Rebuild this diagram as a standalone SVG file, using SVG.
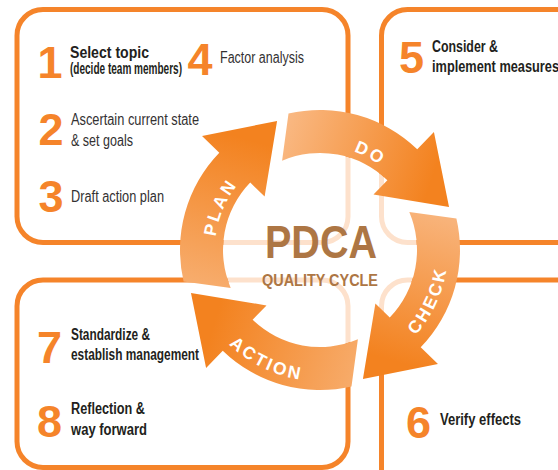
<svg xmlns="http://www.w3.org/2000/svg" width="558" height="470" viewBox="0 0 558 470">
  <defs>
    <style>
      .box{fill:none;stroke:#f5842a;stroke-width:5}
      .num{font-family:"Liberation Sans",Arial,sans-serif;font-weight:bold;font-size:45px;fill:#f5842a;text-anchor:middle}
      .b{font-family:"Liberation Sans",Arial,sans-serif;font-weight:bold;font-size:16px;fill:#231f20}
      .r{font-family:"Liberation Sans",Arial,sans-serif;font-size:16px;fill:#333132}
      .lbl{font-family:"Liberation Sans",Arial,sans-serif;font-weight:bold;font-size:17.5px;fill:#ffffff;letter-spacing:2.5px}
      .ctr{font-family:"Liberation Sans",Arial,sans-serif;font-weight:bold;fill:#ad7644;text-anchor:middle}
    </style>
    <linearGradient id="gPlan" gradientUnits="userSpaceOnUse" x1="207" y1="285" x2="250" y2="140">
      <stop offset="0" stop-color="#f7ac6c"/>
      <stop offset="1" stop-color="#f3821f"/>
    </linearGradient>
    <linearGradient id="gDo" gradientUnits="userSpaceOnUse" x1="285" y1="137" x2="430" y2="185">
      <stop offset="0" stop-color="#f9b780"/>
      <stop offset="1" stop-color="#f3821f"/>
    </linearGradient>
    <linearGradient id="gCheck" gradientUnits="userSpaceOnUse" x1="433" y1="215" x2="390" y2="360">
      <stop offset="0" stop-color="#f8b37a"/>
      <stop offset="1" stop-color="#f3821f"/>
    </linearGradient>
    <linearGradient id="gAction" gradientUnits="userSpaceOnUse" x1="355" y1="363" x2="215" y2="320">
      <stop offset="0" stop-color="#f7aa68"/>
      <stop offset="1" stop-color="#f3821f"/>
    </linearGradient>
    <path id="arcPlan" d="M219.59,280.70 A105,105 0 0,1 272.33,156.44"/>
    <path id="arcDo" d="M297.49,148.46 A104,104 0 0,1 416.08,210.20"/>
    <path id="arcCheck" d="M374.09,366.01 A128,128 0 0,0 443.64,216.87"/>
    <path id="arcAction" d="M200.33,303.28 A131,131 0 0,0 351.69,377.11"/>
  </defs>

  <!-- step boxes -->
  <g id="box-plan">
    <rect class="box" x="17" y="9.5" width="331" height="233" rx="26"/>
  </g>
  <g id="box-do">
    <rect class="box" x="381.5" y="9.5" width="210" height="233" rx="26"/>
  </g>
  <g id="box-action">
    <rect class="box" x="17" y="280" width="331" height="187.5" rx="26"/>
  </g>
  <g id="box-check">
    <rect class="box" x="381.5" y="280" width="210" height="220" rx="26"/>
  </g>

  <!-- veil over the box corners inside the cycle -->
  <circle cx="320" cy="250" r="97" fill="#ffffff" fill-opacity="0.76"/>

  <!-- cycle arrows -->
  <g id="connectors">
    <path id="arrow-plan" fill="url(#gPlan)" d="M230.71,287.90 A97,97 0 0,1 250.22,182.62 L264.61,196.51 L277.08,120.97 L202.03,136.08 L219.29,152.75 A140,140 0 0,0 183.59,281.49 Z"/>
    <path id="arrow-do" fill="url(#gDo)" d="M282.10,160.71 A97,97 0 0,1 387.38,180.22 L373.49,194.61 L449.03,207.08 L433.92,132.03 L417.25,149.29 A140,140 0 0,0 288.51,113.59 Z"/>
    <path id="arrow-check" fill="url(#gCheck)" d="M409.29,212.10 A97,97 0 0,1 389.78,317.38 L375.39,303.49 L362.92,379.03 L437.97,363.92 L420.71,347.25 A140,140 0 0,0 456.41,218.51 Z"/>
    <path id="arrow-action" fill="url(#gAction)" d="M357.90,339.29 A97,97 0 0,1 252.62,319.78 L266.51,305.39 L190.97,292.92 L206.08,367.97 L222.75,350.71 A140,140 0 0,0 351.49,386.41 Z"/>
    <text class="lbl"><textPath href="#arcPlan" startOffset="50%" text-anchor="middle">PLAN</textPath></text>
    <text class="lbl"><textPath href="#arcDo" startOffset="50%" text-anchor="middle">DO</textPath></text>
    <text class="lbl"><textPath href="#arcCheck" startOffset="50%" text-anchor="middle">CHECK</textPath></text>
    <text class="lbl"><textPath href="#arcAction" startOffset="50%" text-anchor="middle">ACTION</textPath></text>
  </g>

  <!-- cycle title -->
  <g id="center-title">
    <text class="ctr" x="321" y="258" font-size="46" textLength="112" lengthAdjust="spacingAndGlyphs">PDCA</text>
    <text class="ctr" x="320" y="286" font-size="16.5" textLength="116" lengthAdjust="spacingAndGlyphs">QUALITY CYCLE</text>
  </g>

  <!-- plan steps -->
  <g id="steps-plan">
    <text class="num" x="50" y="78">1</text>
    <text class="b" x="70" y="58" textLength="79" lengthAdjust="spacingAndGlyphs">Select topic</text>
    <text class="b" x="70" y="74" font-size="11.5" textLength="112" lengthAdjust="spacingAndGlyphs">(decide team members)</text>
    <text class="num" x="200" y="75">4</text>
    <text class="r" x="220" y="63" textLength="84" lengthAdjust="spacingAndGlyphs">Factor analysis</text>
    <text class="num" x="51" y="145">2</text>
    <text class="r" x="71" y="125" textLength="128" lengthAdjust="spacingAndGlyphs">Ascertain current state</text>
    <text class="r" x="71" y="146" textLength="62" lengthAdjust="spacingAndGlyphs">&amp; set goals</text>
    <text class="num" x="51" y="212">3</text>
    <text class="r" x="71" y="202" textLength="93" lengthAdjust="spacingAndGlyphs">Draft action plan</text>
  </g>

  <!-- do step -->
  <g id="steps-do">
    <text class="num" x="411.5" y="73">5</text>
    <text class="b" x="432" y="52" textLength="66" lengthAdjust="spacingAndGlyphs">Consider &amp;</text>
    <text class="b" x="432" y="72" textLength="127" lengthAdjust="spacingAndGlyphs">implement measures</text>
  </g>

  <!-- check step -->
  <g id="steps-check">
    <text class="num" x="418.5" y="438">6</text>
    <text class="b" x="440" y="425" textLength="81" lengthAdjust="spacingAndGlyphs">Verify effects</text>
  </g>

  <!-- action steps -->
  <g id="steps-action">
    <text class="num" x="49.5" y="363">7</text>
    <text class="b" x="71" y="340" textLength="79" lengthAdjust="spacingAndGlyphs">Standardize &amp;</text>
    <text class="b" x="71" y="360" textLength="128" lengthAdjust="spacingAndGlyphs">establish management</text>
    <text class="num" x="49.5" y="437">8</text>
    <text class="b" x="71" y="414" textLength="74" lengthAdjust="spacingAndGlyphs">Reflection &amp;</text>
    <text class="b" x="71" y="435" textLength="76" lengthAdjust="spacingAndGlyphs">way forward</text>
  </g>
</svg>
